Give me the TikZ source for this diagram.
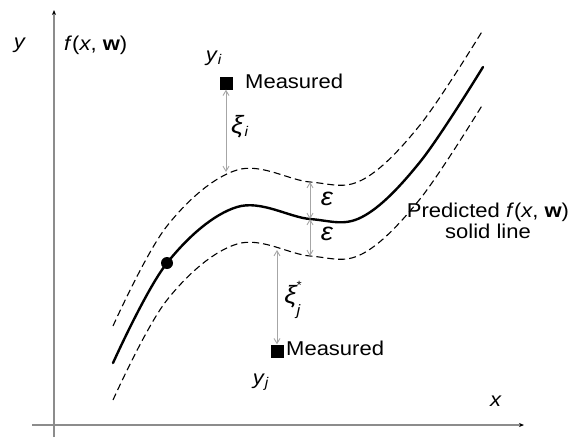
\documentclass[tikz,border=0pt]{standalone}
\usepackage{fontspec}
\setmainfont[FakeStretch=1.1]{Liberation Sans}
\usetikzlibrary{arrows.meta}
\newcommand{\grk}[1]{{\fontsize{25}{25}\selectfont\textit{#1}}}
\begin{document}
\begin{tikzpicture}[x=1pt,y=-1pt,
  axis/.style={draw=gray!90, line width=1.3pt, -{Stealth[length=5pt,width=4pt,black]}},
  fcurve/.style={draw=black, line width=2.4pt, line cap=round},
  bcurve/.style={draw=black, line width=1.1pt, dash pattern=on 7pt off 4pt},
  gap/.style={draw=gray!70, line width=0.9pt, {Straight Barb[length=5pt,width=6pt]}-{Straight Barb[length=5pt,width=6pt]}},
  sq/.style={fill=black, minimum size=13pt, inner sep=0pt},
  lbl/.style={font=\fontsize{20}{23}\selectfont, inner sep=1pt},
  dotm/.style={circle, fill=black, minimum size=12pt, inner sep=0pt}]
\useasboundingbox (0,0) rectangle (576,437);
\def\curvepts{(113,363) (167,263) (237,207) (310,219) (362,217) (420,162) (483,67)}
% axes
\coordinate (xs) at (32,425); \coordinate (xe) at (524,425);
\coordinate (ys) at (54,437); \coordinate (ye) at (54,10);
\draw[axis] (xs) -- (xe);
\draw[axis] (ys) -- (ye);
% curves
\draw[fcurve] plot[smooth, tension=0.6] coordinates {\curvepts};
\draw[bcurve, yshift=37pt] plot[smooth, tension=0.6] coordinates {\curvepts};
\draw[bcurve, yshift=-37pt] plot[smooth, tension=0.6] coordinates {\curvepts};
\node[dotm] (pt) at (167,263) {};
% measured points
\node[sq] (mi) at (226,83) {};
\node[sq] (mj) at (277,351) {};
\coordinate (ui) at (226,172);
\coordinate (lj) at (277,250);
\coordinate (eu) at (310,182);
\coordinate (ec) at (310,219);
\coordinate (el) at (310,256);
\draw[gap] (mi.south) -- (ui);
\draw[gap] (lj) -- (mj.north);
\draw[gap] (eu) -- (ec);
\draw[gap] (ec) -- (el);
% labels
\node[lbl] (ly) at (20,45) {\textit{y}};
\node[lbl, anchor=west] (lf) at (63,45) {\textit{f}(\textit{x}, \textbf{w})};
\node[lbl] (lyi) at (214,58) {\textit{y}\textsubscript{\textit{i}}};
\node[lbl, anchor=west] (lmi) at (244,81) {Measured};
\node[lbl] (lxi) at (240,127) {\grk{ξ}\textsubscript{\textit{i}}};
\node[lbl] (le1) at (327,199) {\grk{ε}};
\node[lbl] (le2) at (327,234) {\grk{ε}};
\node[lbl] (lxj) at (293,298) {\grk{ξ}\hspace{-1pt}\begin{tabular}[c]{@{}l@{}}\fontsize{12}{10}\selectfont *\\[3pt]\fontsize{15}{15}\selectfont\textit{j}\end{tabular}};
\node[lbl, anchor=west] (lmj) at (285,348) {Measured};
\node[lbl] (lyj) at (261,382) {\textit{y}\textsubscript{\textit{j}}};
\node[lbl, align=center] (lp) at (488,221) {Predicted \textit{f}(\textit{x}, \textbf{w})\\[-2pt]solid line};
\node[lbl] (lx) at (496,401) {\textit{x}};
\end{tikzpicture}
\end{document}
